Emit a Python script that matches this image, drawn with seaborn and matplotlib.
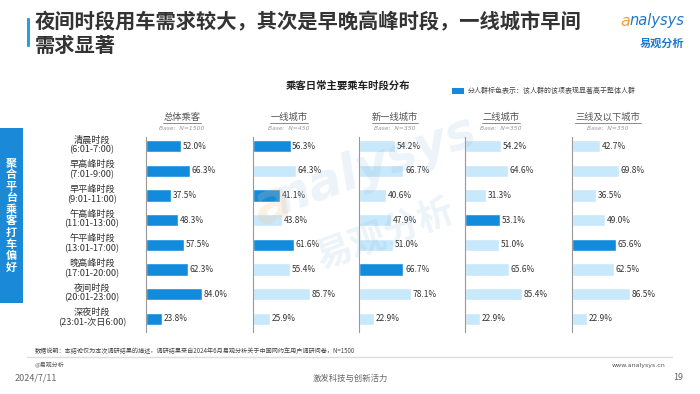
import pandas as pd
import seaborn as sns
import matplotlib.pyplot as plt
import matplotlib.transforms as mtransforms
from matplotlib.patches import Rectangle, FancyBboxPatch
from matplotlib.lines import Line2D

sns.set_theme(style='white')
plt.rcParams['font.family'] = ['Noto Sans CJK SC', 'DejaVu Sans']

# data
periods = ['清晨时段', '早高峰时段', '早平峰时段', '午高峰时段',
           '午平峰时段', '晚高峰时段', '夜间时段', '深夜时段']
period_hours = ['(6:01-7:00)', '(7:01-9:00)', '(9:01-11:00)', '(11:01-13:00)',
                '(13:01-17:00)', '(17:01-20:00)', '(20:01-23:00)', '(23:01-次日6:00)']
groups = ['总体乘客', '一线城市', '新一线城市', '二线城市', '三线及以下城市']
bases = ['Base:  N=1500', 'Base:  N=450', 'Base:  N=350', 'Base:  N=350', 'Base:  N=350']

total_vals = [52.0, 66.3, 37.5, 48.3, 57.5, 62.3, 84.0, 23.8]
tier1_vals = [56.3, 64.3, 41.1, 43.8, 61.6, 55.4, 85.7, 25.9]
newtier1_vals = [54.2, 66.7, 40.6, 47.9, 51.0, 66.7, 78.1, 22.9]
tier2_vals = [54.2, 64.6, 31.3, 53.1, 51.0, 65.6, 85.4, 22.9]
tier3_vals = [42.7, 69.8, 36.5, 49.0, 65.6, 62.5, 86.5, 22.9]

total_sig = [1, 1, 1, 1, 1, 1, 1, 1]
tier1_sig = [1, 0, 1, 0, 1, 0, 0, 0]
newtier1_sig = [0, 0, 0, 0, 0, 1, 0, 0]
tier2_sig = [0, 0, 0, 1, 0, 0, 0, 0]
tier3_sig = [0, 0, 0, 0, 1, 0, 0, 0]

all_vals = [total_vals, tier1_vals, newtier1_vals, tier2_vals, tier3_vals]
all_sig = [total_sig, tier1_sig, newtier1_sig, tier2_sig, tier3_sig]

DARK = '#138bdc'
LIGHT = '#c8e8fb'
W, H = 700, 394

fig = plt.figure(figsize=(7, 3.94), dpi=100)
fig.patch.set_facecolor('white')


def fx(x):
    return x / W


def fy(y):
    return 1 - y / H


# title
fig.add_artist(FancyBboxPatch((fx(27), fy(47)), fx(3), 29 / H,
                              boxstyle='round,pad=0,rounding_size=0.002',
                              transform=fig.transFigure, color='#2a9de2', lw=0))
fig.text(fx(35), fy(22), '夜间时段用车需求较大，其次是早晚高峰时段，一线城市早间',
         fontsize=14.6, fontweight='bold', color='#333333', va='center', ha='left')
fig.text(fx(35), fy(45), '需求显著', fontsize=14.6, fontweight='bold',
         color='#333333', va='center', ha='left')

# logo
fig.text(fx(620), fy(21), 'a', fontsize=11.5, style='italic', color='#f0a030',
         va='center', ha='left', family='DejaVu Sans')
fig.text(fx(629), fy(21), 'nalysys', fontsize=10.5, style='italic', color='#1f78c8',
         va='center', ha='left', family='DejaVu Sans')
fig.text(fx(662), fy(43), '易观分析', fontsize=8, fontweight='bold', color='#1f78c8',
         va='center', ha='center')

# chart title and legend
fig.text(fx(348), fy(86), '乘客日常主要乘车时段分布', fontsize=7.5, fontweight='bold',
         color='#222222', va='center', ha='center')
fig.add_artist(Rectangle((fx(452), fy(94)), fx(12), 6 / H,
                         transform=fig.transFigure, color=DARK, lw=0))
fig.text(fx(468), fy(91), '分人群标色表示：该人群的该项表现显著高于整体人群',
         fontsize=5, color='#444444', va='center', ha='left')

# left vertical box
fig.add_artist(Rectangle((0, fy(303)), fx(23), 175 / H,
                         transform=fig.transFigure, color='#1a8ad8', lw=0))
side_text = '聚合平台乘客打车偏好'
for k, ch in enumerate(side_text):
    fig.text(fx(11.5), fy(163 + k * 11.6), ch, fontsize=8, fontweight='bold',
             color='white', va='center', ha='center')

# panels
panel_x = [146, 253, 359, 465, 572]
axes = []
for g, (x0, vals, sig) in enumerate(zip(panel_x, all_vals, all_sig)):
    ax = fig.add_axes([fx(x0), fy(332), fx(100), 195 / H])
    ax.set_facecolor('none')
    d = pd.DataFrame({'时段': periods, '值': vals, '显著': [bool(s) for s in sig]})
    sns.barplot(data=d, x='值', y='时段', hue='显著', order=periods,
                palette={True: DARK, False: LIGHT}, dodge=False, legend=False,
                width=0.5, ax=ax, saturation=1)
    for i, v in enumerate(vals):
        ax.text(v + 2.5, i, f'{v:.1f}%', va='center', ha='left',
                fontsize=6, color='#333333')
    ax.set_xlim(0, 150)
    ax.set_ylim(7.53, -0.37)
    ax.set_xlabel('')
    ax.set_ylabel('')
    ax.set_xticks([])
    ax.set_yticks([])
    for s in ['top', 'right', 'bottom']:
        ax.spines[s].set_visible(False)
    ax.spines['left'].set_color('#999999')
    ax.spines['left'].set_linewidth(0.8)
    axes.append(ax)

    # header with underline
    cx = x0 + 36
    fig.text(fx(cx), fy(117), groups[g], fontsize=6.7, color='#555555',
             va='center', ha='center')
    half = len(groups[g]) * 9.3 / 2
    fig.add_artist(Line2D([fx(cx - half), fx(cx + half)], [fy(123), fy(123)],
                          transform=fig.transFigure, color='#777777', lw=0.6))
    fig.text(fx(cx), fy(129), bases[g], fontsize=4.3, style='italic',
             color='#999999', va='center', ha='center', family='DejaVu Sans')

# row labels
trans = mtransforms.blended_transform_factory(fig.transFigure, axes[0].transData)
for i, (p, h) in enumerate(zip(periods, period_hours)):
    axes[0].text(fx(92), i - 0.05, p + '\n' + h, transform=trans, fontsize=6.6,
                 color='#333333', ha='center', va='center', linespacing=1.15,
                 clip_on=False)

# watermark
fig.text(fx(272), fy(205), 'a', fontsize=40, style='italic', fontweight='bold',
         color='#f3c089', alpha=0.22, rotation=20, ha='center', va='center',
         family='DejaVu Sans', zorder=10)
fig.text(fx(375), fy(165), 'nalysys', fontsize=36, style='italic', fontweight='bold',
         color='#8fb8dc', alpha=0.17, rotation=20, ha='center', va='center',
         family='DejaVu Sans', zorder=10)
fig.text(fx(385), fy(235), '易观分析', fontsize=26, fontweight='bold',
         color='#8fb8dc', alpha=0.17, rotation=20, ha='center', va='center',
         zorder=10)

# footer
fig.text(fx(35), fy(351), '数据说明：本结论仅为本次调研结果的描述，调研结果来自2024年6月易观分析关于中国网约车用户调研问卷，N=1500',
         fontsize=4.4, color='#444444', va='center', ha='left')
fig.add_artist(Line2D([fx(27), fx(672)], [fy(356.5), fy(356.5)],
                      transform=fig.transFigure, color='#dddddd', lw=1))
fig.text(fx(35), fy(364), '@易观分析', fontsize=4.3, color='#555555',
         va='center', ha='left')
fig.text(fx(665), fy(365), 'www.analysys.cn', fontsize=4.5, color='#555555',
         va='center', ha='right', family='DejaVu Sans')
fig.text(fx(15), fy(378), '2024/7/11', fontsize=6.5, color='#666666',
         va='center', ha='left')
fig.text(fx(350), fy(378), '激发科技与创新活力', fontsize=6, color='#666666',
         va='center', ha='center')
fig.text(fx(683), fy(378), '19', fontsize=6.5, color='#666666',
         va='center', ha='right')

fig.savefig('out.png', dpi=100, facecolor='white')
